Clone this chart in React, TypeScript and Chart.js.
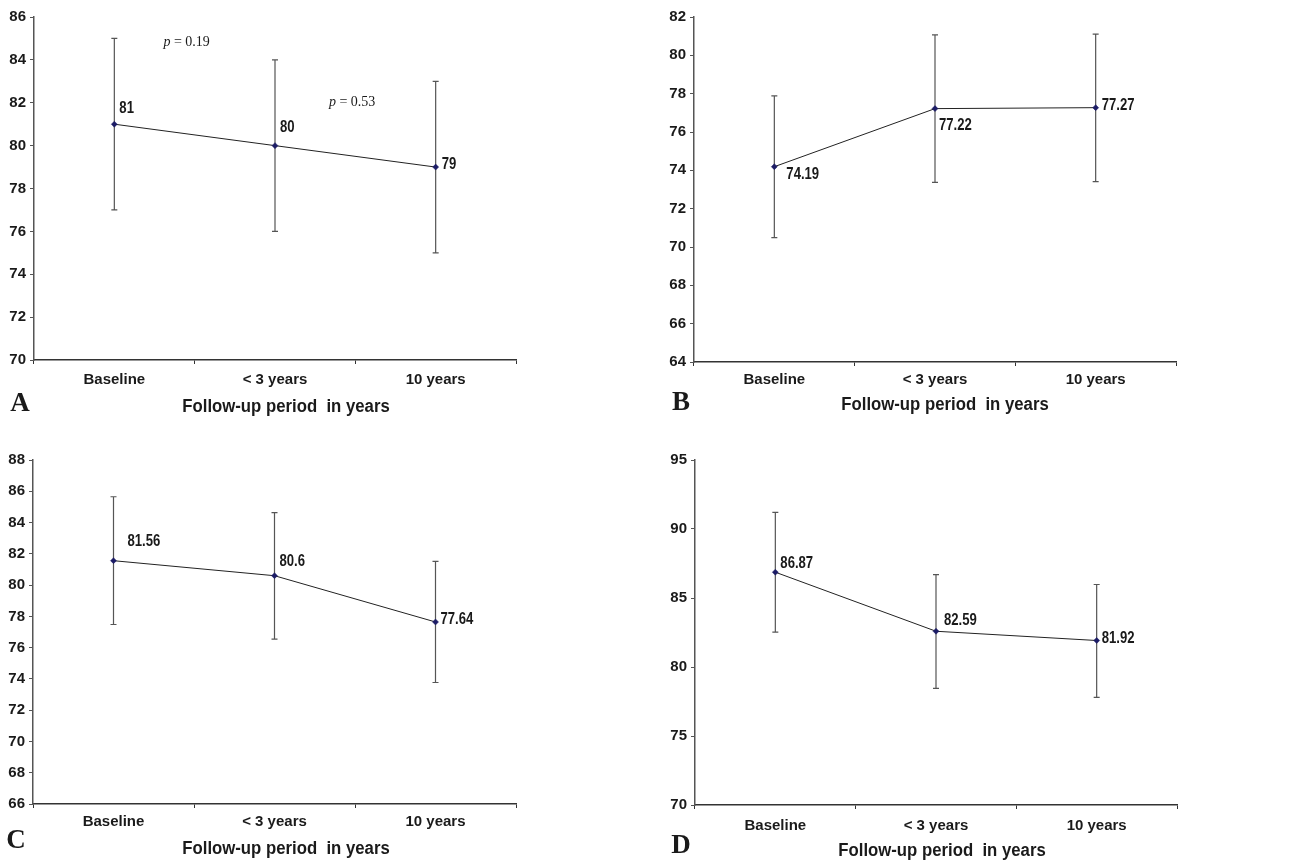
import React, { useEffect, useRef } from "react";
import { Chart, registerables } from "chart.js";

Chart.register(...registerables);

// ---- Data ----
const CATEGORIES = ["Baseline", "< 3 years", "10 years"];
const X_TITLE = "Follow-up period  in years";

const A_MEAN = [81, 80, 79];
const A_LOW = [77, 76, 75];
const A_HIGH = [85, 84, 83];
const A_Y_RANGE = [70, 86, 2];

const B_MEAN = [74.19, 77.22, 77.27];
const B_LOW = [70.49, 73.37, 73.41];
const B_HIGH = [77.89, 81.07, 81.11];
const B_Y_RANGE = [64, 82, 2];

const C_MEAN = [81.56, 80.6, 77.64];
const C_LOW = [77.48, 76.55, 73.77];
const C_HIGH = [85.65, 84.63, 81.52];
const C_Y_RANGE = [66, 88, 2];

const D_MEAN = [86.87, 82.59, 81.92];
const D_LOW = [82.52, 78.45, 77.8];
const D_HIGH = [91.2, 86.7, 85.98];
const D_Y_RANGE = [70, 95, 5];

// p-value annotations on panel A: [x category position, y value, text]
const A_PVALUES: [number, number, string][] = [
  [0.45, 84.8, "0.19"],
  [1.48, 82.0, "0.53"],
];

// ---- Styles / layout ----
const SANS = "'Liberation Sans', Arial, sans-serif";
const SERIF = "'Liberation Serif', 'Times New Roman', serif";
const W = 656;
const H = 433;

type Panel = {
  letter: string;
  mean: number[];
  low: number[];
  high: number[];
  yr: number[];
  pos: [number, number];
  area: { l: number; r: number; t: number; b: number };
  labelOff: [number, number][];
  letterPos: [number, number];
  titlePos: [number, number];
  tickPad: number;
  pvalues?: [number, number, string][];
};

const PANELS: Panel[] = [
  {
    letter: "A", mean: A_MEAN, low: A_LOW, high: A_HIGH, yr: A_Y_RANGE,
    pos: [0, 0], area: { l: 34, r: 516, t: 17, b: 360 },
    labelOff: [[5, -16], [5, -18], [6, -2]],
    letterPos: [20, 404], titlePos: [286, 407], tickPad: 7, pvalues: A_PVALUES,
  },
  {
    letter: "B", mean: B_MEAN, low: B_LOW, high: B_HIGH, yr: B_Y_RANGE,
    pos: [656, 0], area: { l: 38, r: 520, t: 17, b: 362 },
    labelOff: [[12, 8], [4, 17], [6, -2]],
    letterPos: [25, 403], titlePos: [289, 405], tickPad: 5,
  },
  {
    letter: "C", mean: C_MEAN, low: C_LOW, high: C_HIGH, yr: C_Y_RANGE,
    pos: [0, 433], area: { l: 33, r: 516, t: 27, b: 371 },
    labelOff: [[14, -19], [5, -14], [5, -2]],
    letterPos: [16, 408], titlePos: [286, 416], tickPad: 5,
  },
  {
    letter: "D", mean: D_MEAN, low: D_LOW, high: D_HIGH, yr: D_Y_RANGE,
    pos: [656, 433], area: { l: 39, r: 521, t: 27, b: 372 },
    labelOff: [[5, -9], [8, -11], [5, -2]],
    letterPos: [25, 413], titlePos: [286, 418], tickPad: 8,
  },
];

// draw text horizontally condensed (reference uses a narrow sans face)
function condensedText(ctx: any, txt: string, x: number, y: number, sx: number, align: string) {
  ctx.save();
  ctx.translate(x, y);
  ctx.scale(sx, 1);
  ctx.textAlign = align;
  ctx.fillText(txt, 0, 0);
  ctx.restore();
}

function makeExtras(p: Panel) {
  return {
    id: "extras" + p.letter,
    beforeDatasetsDraw(chart: any) {
      const ctx = chart.ctx;
      const xs = chart.scales.x;
      const ys = chart.scales.y;
      ctx.save();
      ctx.strokeStyle = "#555";
      ctx.lineWidth = 1.2;
      for (let i = 0; i < p.mean.length; i++) {
        const x = xs.getPixelForValue(i);
        const y1 = ys.getPixelForValue(p.low[i]);
        const y2 = ys.getPixelForValue(p.high[i]);
        ctx.beginPath();
        ctx.moveTo(x, y1);
        ctx.lineTo(x, y2);
        ctx.moveTo(x - 3, y1);
        ctx.lineTo(x + 3, y1);
        ctx.moveTo(x - 3, y2);
        ctx.lineTo(x + 3, y2);
        ctx.stroke();
      }
      ctx.restore();
    },
    afterDraw(chart: any) {
      const ctx = chart.ctx;
      const xs = chart.scales.x;
      const ys = chart.scales.y;
      ctx.save();
      // data labels
      ctx.fillStyle = "#1a1a1a";
      ctx.font = `bold 16px ${SANS}`;
      ctx.textBaseline = "middle";
      for (let i = 0; i < p.mean.length; i++) {
        const x = xs.getPixelForValue(i);
        const y = ys.getPixelForValue(p.mean[i]);
        condensedText(ctx, String(p.mean[i]), x + p.labelOff[i][0], y + p.labelOff[i][1], 0.82, "left");
      }
      // x title
      ctx.font = `bold 18px ${SANS}`;
      condensedText(ctx, X_TITLE, p.titlePos[0], p.titlePos[1], 0.93, "center");
      // panel letter
      ctx.textAlign = "center";
      ctx.font = `bold 27px ${SERIF}`;
      ctx.fillText(p.letter, p.letterPos[0], p.letterPos[1]);
      // p-values
      if (p.pvalues) {
        for (const [cx, cy, txt] of p.pvalues) {
          const px = xs.getPixelForValue(cx);
          const py = ys.getPixelForValue(cy);
          ctx.font = `italic 14px ${SERIF}`;
          const w1 = ctx.measureText("p").width;
          ctx.font = `14px ${SERIF}`;
          const rest = " = " + txt;
          const w2 = ctx.measureText(rest).width;
          const start = px - (w1 + w2) / 2;
          ctx.textAlign = "left";
          ctx.font = `italic 14px ${SERIF}`;
          ctx.fillText("p", start, py);
          ctx.font = `14px ${SERIF}`;
          ctx.fillText(rest, start + w1, py);
        }
      }
      ctx.restore();
    },
  };
}

function PanelChart({ p }: { p: Panel }) {
  const ref = useRef<HTMLCanvasElement>(null);
  useEffect(() => {
    if (!ref.current) return;
    const a = p.area;
    const chart = new Chart(ref.current, {
      type: "line",
      data: {
        labels: CATEGORIES,
        datasets: [
          {
            data: p.mean,
            borderColor: "#222",
            borderWidth: 1,
            pointStyle: "rectRot",
            pointRadius: 3,
            pointBackgroundColor: "#1c1c66",
            pointBorderColor: "#1c1c66",
            pointBorderWidth: 0.5,
            tension: 0,
            fill: false,
          },
        ],
      },
      options: {
        responsive: false,
        animation: false,
        events: [],
        layout: { autoPadding: false, padding: { top: a.t, right: W - a.r, left: 0, bottom: 0 } },
        plugins: { legend: { display: false }, tooltip: { enabled: false }, title: { display: false } },
        scales: {
          x: {
            offset: true,
            grid: {
              offset: true,
              drawOnChartArea: false,
              drawTicks: true,
              tickLength: 4,
              color: "#333",
            },
            border: { color: "#333", width: 1.5 },
            ticks: {
              color: "#1a1a1a",
              font: { family: SANS, size: 15, weight: "bold" },
              padding: p.tickPad,
              maxRotation: 0,
            },
            afterFit: (axis: any) => {
              axis.height = H - a.b;
            },
          },
          y: {
            min: p.yr[0],
            max: p.yr[1],
            grid: { drawOnChartArea: false, drawTicks: true, tickLength: 4, color: "#555" },
            border: { color: "#555", width: 1.5 },
            ticks: {
              stepSize: p.yr[2],
              color: "#1a1a1a",
              font: { family: SANS, size: 15, weight: "bold" },
              padding: 4,
            },
            afterFit: (axis: any) => {
              axis.width = a.l;
            },
          },
        },
      },
      plugins: [makeExtras(p)],
    } as any);
    return () => chart.destroy();
  }, [p]);
  return (
    <canvas
      ref={ref}
      width={W}
      height={H}
      style={{ position: "absolute", left: p.pos[0], top: p.pos[1], width: W, height: H }}
    />
  );
}

export default function App() {
  return (
    <div style={{ position: "absolute", left: 0, top: 0, width: 1312, height: 866, background: "#fff" }}>
      {PANELS.map((p) => (
        <PanelChart key={p.letter} p={p} />
      ))}
    </div>
  );
}
